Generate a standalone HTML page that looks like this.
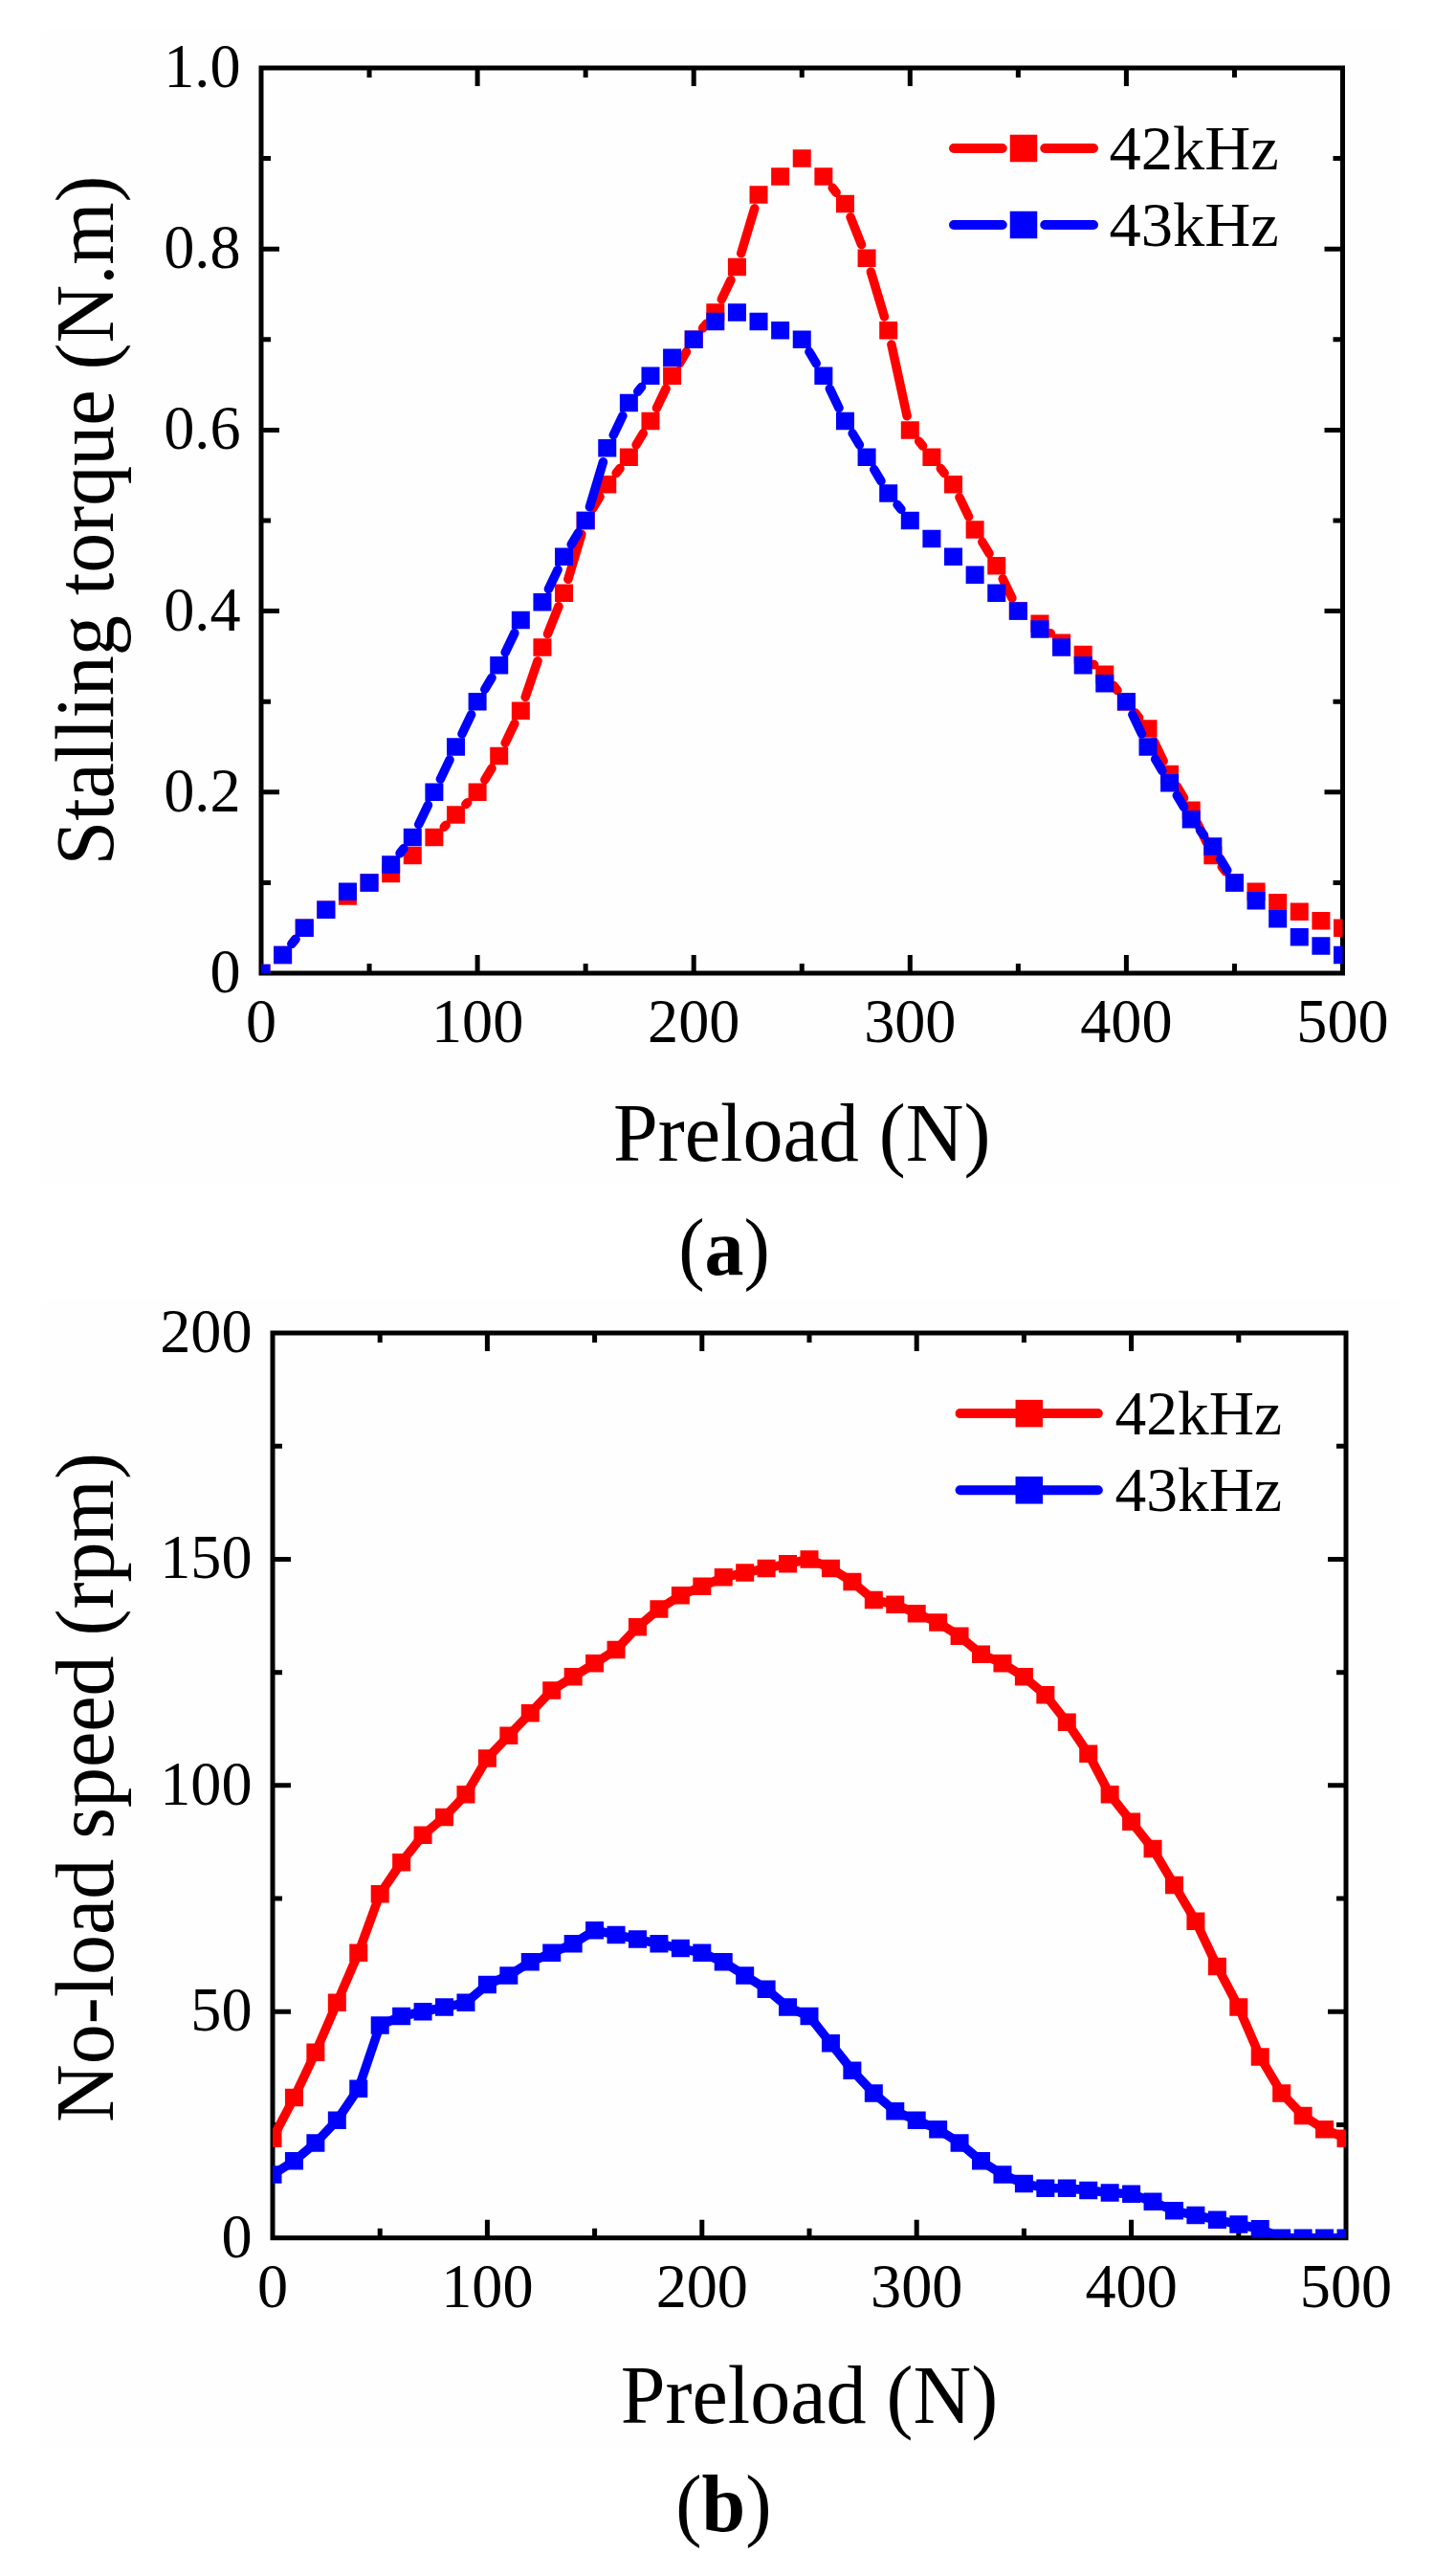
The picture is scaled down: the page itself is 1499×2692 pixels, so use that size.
<!DOCTYPE html>
<html><head><meta charset="utf-8"><style>
html,body{margin:0;padding:0;background:#fff;}
body{width:1499px;height:2692px;overflow:hidden;}
svg{display:block;}
text{font-family:"Liberation Serif", serif;}
</style></head><body>
<svg width="1499" height="2692" viewBox="0 0 1499 2692" font-family="'Liberation Serif', serif" font-size="66.5" fill="#000">
<rect x="0" y="0" width="1499" height="2692" fill="#fff"/>
<rect x="43" y="31" width="1422" height="1207" fill="#fefefe"/>
<rect x="43" y="1356" width="1422" height="1201" fill="#fefefe"/>
<clipPath id="ca"><rect x="273" y="71" width="1130.5" height="946"/></clipPath>
<path d="M386.05 1017V1007M386.05 71V81M499.1 1017V998M499.1 71V90M612.15 1017V1007M612.15 71V81M725.2 1017V998M725.2 71V90M838.25 1017V1007M838.25 71V81M951.3 1017V998M951.3 71V90M1064.35 1017V1007M1064.35 71V81M1177.4 1017V998M1177.4 71V90M1290.45 1017V1007M1290.45 71V81M273 922.4H283M1403.5 922.4H1393.5M273 827.8H292M1403.5 827.8H1384.5M273 733.2H283M1403.5 733.2H1393.5M273 638.6H292M1403.5 638.6H1384.5M273 544H283M1403.5 544H1393.5M273 449.4H292M1403.5 449.4H1384.5M273 354.8H283M1403.5 354.8H1393.5M273 260.2H292M1403.5 260.2H1384.5M273 165.6H283M1403.5 165.6H1393.5" stroke="#000" stroke-width="5" fill="none"/>
<rect x="273" y="71" width="1130.5" height="946" stroke="#000" stroke-width="5" fill="none"/>
<g clip-path="url(#ca)"><path d="M304.96 986.35L308.87 981.43M464.25 864.26L466.12 862.29M486.86 840.61L488.73 838.64M506.79 814.92L514.02 802.84M528.18 776.43L537.85 756.19M549.17 728.46L562.08 690.64M572.48 662.5L583.99 633.62M593.83 605.31L607.86 558.37M619.84 531.12L627.07 519.04M644.11 494.43L648.02 489.51M665.06 464.9L672.29 452.82M686.45 426.41L696.12 406.17M710.28 379.76L717.51 367.68M734.55 343.07L738.46 338.15M754.28 312.89L763.95 292.65M774.71 264.75L788.74 217.81M870.21 196.25L874.12 201.17M889.02 226.84L900.53 255.72M910.37 284.03L924.4 330.97M931.87 360L948.12 434.74M960.65 461.13L964.56 466.05M983.26 489.51L987.17 494.43M1002.99 519.69L1012.66 539.93M1026.82 566.34L1034.05 578.42M1048.21 604.83L1057.88 625.07M1098.23 661.74L1098.3 661.81M1143.22 694.17L1143.75 694.66M1164.14 716.55L1168.05 721.47M1186.75 744.93L1190.66 749.85M1206.48 775.11L1216.15 795.35M1230.31 821.76L1237.54 833.84M1251.7 860.25L1261.37 880.49M1277.19 905.75L1281.1 910.67" fill="none" stroke="#ff0000" stroke-width="9.5" stroke-linecap="round"/><path d="M263.5 1007.75h19v18.5h-19zM286.11 988.83h19v18.5h-19zM308.72 960.45h19v18.5h-19zM331.33 941.53h19v18.5h-19zM353.94 927.34h19v18.5h-19zM376.55 913.15h19v18.5h-19zM399.16 903.69h19v18.5h-19zM421.77 884.77h19v18.5h-19zM444.38 865.85h19v18.5h-19zM466.99 842.2h19v18.5h-19zM489.6 818.55h19v18.5h-19zM512.21 780.71h19v18.5h-19zM534.82 733.41h19v18.5h-19zM557.43 667.19h19v18.5h-19zM580.04 610.43h19v18.5h-19zM602.65 534.75h19v18.5h-19zM625.26 496.91h19v18.5h-19zM647.87 468.53h19v18.5h-19zM670.48 430.69h19v18.5h-19zM693.09 383.39h19v18.5h-19zM715.7 345.55h19v18.5h-19zM738.31 317.17h19v18.5h-19zM760.92 269.87h19v18.5h-19zM783.53 194.19h19v18.5h-19zM806.14 175.27h19v18.5h-19zM828.75 156.35h19v18.5h-19zM851.36 175.27h19v18.5h-19zM873.97 203.65h19v18.5h-19zM896.58 260.41h19v18.5h-19zM919.19 336.09h19v18.5h-19zM941.8 440.15h19v18.5h-19zM964.41 468.53h19v18.5h-19zM987.02 496.91h19v18.5h-19zM1009.63 544.21h19v18.5h-19zM1032.24 582.05h19v18.5h-19zM1054.85 629.35h19v18.5h-19zM1077.46 642.59h19v18.5h-19zM1100.07 662.46h19v18.5h-19zM1122.68 674.76h19v18.5h-19zM1145.29 695.57h19v18.5h-19zM1167.9 723.95h19v18.5h-19zM1190.51 752.33h19v18.5h-19zM1213.12 799.63h19v18.5h-19zM1235.73 837.47h19v18.5h-19zM1258.34 884.77h19v18.5h-19zM1280.95 913.15h19v18.5h-19zM1303.56 922.61h19v18.5h-19zM1326.17 933.96h19v18.5h-19zM1348.78 943.42h19v18.5h-19zM1371.39 952.88h19v18.5h-19zM1394 960.45h19v18.5h-19z" fill="#ff0000"/></g>
<g clip-path="url(#ca)"><path d="M304.96 986.35L308.87 981.43M418.01 891.75L421.92 886.83M437.74 861.57L447.41 841.33M460.35 814.27L470.02 794.03M482.96 766.97L492.63 746.73M506.79 720.32L514.02 708.24M528.18 681.83L537.85 661.59M573.4 615.61L583.07 595.37M597.23 568.96L604.46 556.88M616.44 529.63L630.47 482.69M641.23 454.79L650.9 434.55M666.72 409.29L670.63 404.37M845.94 367.68L853.17 379.76M867.33 406.17L877 426.41M891.16 452.82L898.39 464.9M913.77 490.66L921 502.74M938.04 527.35L941.95 532.27M1183.87 746.73L1193.54 766.97M1207.7 793.38L1214.93 805.46M1230.31 831.22L1237.54 843.3M1254.58 867.91L1258.49 872.83M1275.53 897.44L1282.76 909.52" fill="none" stroke="#0000ff" stroke-width="9.5" stroke-linecap="round"/><path d="M263.5 1007.75h19v18.5h-19zM286.11 988.83h19v18.5h-19zM308.72 960.45h19v18.5h-19zM331.33 941.53h19v18.5h-19zM353.94 922.61h19v18.5h-19zM376.55 913.15h19v18.5h-19zM399.16 894.23h19v18.5h-19zM421.77 865.85h19v18.5h-19zM444.38 818.55h19v18.5h-19zM466.99 771.25h19v18.5h-19zM489.6 723.95h19v18.5h-19zM512.21 686.11h19v18.5h-19zM534.82 638.81h19v18.5h-19zM557.43 619.89h19v18.5h-19zM580.04 572.59h19v18.5h-19zM602.65 534.75h19v18.5h-19zM625.26 459.07h19v18.5h-19zM647.87 411.77h19v18.5h-19zM670.48 383.39h19v18.5h-19zM693.09 364.47h19v18.5h-19zM715.7 345.55h19v18.5h-19zM738.31 326.63h19v18.5h-19zM760.92 317.17h19v18.5h-19zM783.53 326.63h19v18.5h-19zM806.14 336.09h19v18.5h-19zM828.75 345.55h19v18.5h-19zM851.36 383.39h19v18.5h-19zM873.97 430.69h19v18.5h-19zM896.58 468.53h19v18.5h-19zM919.19 506.37h19v18.5h-19zM941.8 534.75h19v18.5h-19zM964.41 553.67h19v18.5h-19zM987.02 572.59h19v18.5h-19zM1009.63 591.51h19v18.5h-19zM1032.24 610.43h19v18.5h-19zM1054.85 629.35h19v18.5h-19zM1077.46 648.27h19v18.5h-19zM1100.07 667.19h19v18.5h-19zM1122.68 686.11h19v18.5h-19zM1145.29 705.03h19v18.5h-19zM1167.9 723.95h19v18.5h-19zM1190.51 771.25h19v18.5h-19zM1213.12 809.09h19v18.5h-19zM1235.73 846.93h19v18.5h-19zM1258.34 875.31h19v18.5h-19zM1280.95 913.15h19v18.5h-19zM1303.56 932.07h19v18.5h-19zM1326.17 950.99h19v18.5h-19zM1348.78 969.91h19v18.5h-19zM1371.39 979.37h19v18.5h-19zM1394 988.83h19v18.5h-19z" fill="#0000ff"/></g>
<text transform="translate(251.5 1037) scale(0.966 1)" text-anchor="end">0</text>
<text transform="translate(251.5 847.8) scale(0.966 1)" text-anchor="end">0.2</text>
<text transform="translate(251.5 658.6) scale(0.966 1)" text-anchor="end">0.4</text>
<text transform="translate(251.5 469.4) scale(0.966 1)" text-anchor="end">0.6</text>
<text transform="translate(251.5 280.2) scale(0.966 1)" text-anchor="end">0.8</text>
<text transform="translate(251.5 91) scale(0.966 1)" text-anchor="end">1.0</text>
<text transform="translate(273 1089) scale(0.966 1)" text-anchor="middle">0</text>
<text transform="translate(499.1 1089) scale(0.966 1)" text-anchor="middle">100</text>
<text transform="translate(725.2 1089) scale(0.966 1)" text-anchor="middle">200</text>
<text transform="translate(951.3 1089) scale(0.966 1)" text-anchor="middle">300</text>
<text transform="translate(1177.4 1089) scale(0.966 1)" text-anchor="middle">400</text>
<text transform="translate(1403.5 1089) scale(0.966 1)" text-anchor="middle">500</text>
<text transform="translate(838.25 1213) scale(0.966 1)" text-anchor="middle" font-size="87">Preload (N)</text>
<text transform="translate(117.5 544) rotate(-90) scale(0.966 1)" text-anchor="middle" font-size="87">Stalling torque (N.m)</text>
<path d="M997 155H1047.75M1092.25 155H1143" stroke="#ff0000" stroke-width="10" stroke-linecap="round"/>
<rect x="1055.75" y="140.75" width="28.5" height="28.5" fill="#ff0000"/>
<text transform="translate(1159.5 176.6) scale(1 1)">42kHz</text>
<path d="M997 235H1047.75M1092.25 235H1143" stroke="#0000ff" stroke-width="10" stroke-linecap="round"/>
<rect x="1055.75" y="220.75" width="28.5" height="28.5" fill="#0000ff"/>
<text transform="translate(1159.5 256.9) scale(1 1)">43kHz</text>
<clipPath id="cb"><rect x="285" y="1393" width="1122" height="945.7"/></clipPath>
<path d="M397.2 2338.7V2328.7M397.2 1393V1403M509.4 2338.7V2319.7M509.4 1393V1412M621.6 2338.7V2328.7M621.6 1393V1403M733.8 2338.7V2319.7M733.8 1393V1412M846 2338.7V2328.7M846 1393V1403M958.2 2338.7V2319.7M958.2 1393V1412M1070.4 2338.7V2328.7M1070.4 1393V1403M1182.6 2338.7V2319.7M1182.6 1393V1412M1294.8 2338.7V2328.7M1294.8 1393V1403M285 2220.49H295M1407 2220.49H1397M285 2102.27H304M1407 2102.27H1388M285 1984.06H295M1407 1984.06H1397M285 1865.85H304M1407 1865.85H1388M285 1747.64H295M1407 1747.64H1397M285 1629.42H304M1407 1629.42H1388M285 1511.21H295M1407 1511.21H1397" stroke="#000" stroke-width="5" fill="none"/>
<rect x="285" y="1393" width="1122" height="945.7" stroke="#000" stroke-width="5" fill="none"/>
<g clip-path="url(#cb)"><polyline points="285,2234.67 307.44,2192.12 329.88,2144.83 352.32,2092.82 374.76,2040.8 397.2,1979.33 419.64,1946.23 442.08,1917.86 464.52,1898.95 486.96,1875.31 509.4,1837.48 531.84,1813.84 554.28,1790.19 576.72,1766.55 599.16,1752.37 621.6,1738.18 644.04,1723.99 666.48,1700.35 688.92,1681.44 711.36,1667.25 733.8,1657.8 756.24,1648.34 778.68,1643.61 801.12,1638.88 823.56,1634.15 846,1629.42 868.44,1638.88 890.88,1653.07 913.32,1671.98 935.76,1676.71 958.2,1686.17 980.64,1695.62 1003.08,1709.81 1025.52,1728.72 1047.96,1738.18 1070.4,1752.37 1092.84,1771.28 1115.28,1799.65 1137.72,1832.75 1160.16,1875.31 1182.6,1903.68 1205.04,1932.05 1227.48,1969.88 1249.92,2007.7 1272.36,2054.99 1294.8,2097.55 1317.24,2149.56 1339.68,2187.39 1362.12,2211.03 1384.56,2225.22 1407,2234.67" fill="none" stroke="#ff0000" stroke-width="9.5" stroke-linejoin="round" stroke-linecap="round"/><path d="M275.5 2225.42h19v18.5h-19zM297.94 2182.87h19v18.5h-19zM320.38 2135.58h19v18.5h-19zM342.82 2083.57h19v18.5h-19zM365.26 2031.55h19v18.5h-19zM387.7 1970.08h19v18.5h-19zM410.14 1936.98h19v18.5h-19zM432.58 1908.61h19v18.5h-19zM455.02 1889.7h19v18.5h-19zM477.46 1866.06h19v18.5h-19zM499.9 1828.23h19v18.5h-19zM522.34 1804.59h19v18.5h-19zM544.78 1780.94h19v18.5h-19zM567.22 1757.3h19v18.5h-19zM589.66 1743.12h19v18.5h-19zM612.1 1728.93h19v18.5h-19zM634.54 1714.74h19v18.5h-19zM656.98 1691.1h19v18.5h-19zM679.42 1672.19h19v18.5h-19zM701.86 1658h19v18.5h-19zM724.3 1648.55h19v18.5h-19zM746.74 1639.09h19v18.5h-19zM769.18 1634.36h19v18.5h-19zM791.62 1629.63h19v18.5h-19zM814.06 1624.9h19v18.5h-19zM836.5 1620.17h19v18.5h-19zM858.94 1629.63h19v18.5h-19zM881.38 1643.82h19v18.5h-19zM903.82 1662.73h19v18.5h-19zM926.26 1667.46h19v18.5h-19zM948.7 1676.92h19v18.5h-19zM971.14 1686.37h19v18.5h-19zM993.58 1700.56h19v18.5h-19zM1016.02 1719.47h19v18.5h-19zM1038.46 1728.93h19v18.5h-19zM1060.9 1743.12h19v18.5h-19zM1083.34 1762.03h19v18.5h-19zM1105.78 1790.4h19v18.5h-19zM1128.22 1823.5h19v18.5h-19zM1150.66 1866.06h19v18.5h-19zM1173.1 1894.43h19v18.5h-19zM1195.54 1922.8h19v18.5h-19zM1217.98 1960.63h19v18.5h-19zM1240.42 1998.45h19v18.5h-19zM1262.86 2045.74h19v18.5h-19zM1285.3 2088.3h19v18.5h-19zM1307.74 2140.31h19v18.5h-19zM1330.18 2178.14h19v18.5h-19zM1352.62 2201.78h19v18.5h-19zM1375.06 2215.97h19v18.5h-19zM1397.5 2225.42h19v18.5h-19z" fill="#ff0000"/></g>
<g clip-path="url(#cb)"><polyline points="285,2272.5 307.44,2258.32 329.88,2239.4 352.32,2215.76 374.76,2182.66 397.2,2116.46 419.64,2107 442.08,2102.27 464.52,2097.55 486.96,2092.82 509.4,2073.9 531.84,2064.45 554.28,2050.26 576.72,2040.8 599.16,2031.35 621.6,2017.16 644.04,2021.89 666.48,2026.62 688.92,2031.35 711.36,2036.08 733.8,2040.8 756.24,2050.26 778.68,2064.45 801.12,2078.63 823.56,2097.55 846,2107 868.44,2135.37 890.88,2163.75 913.32,2187.39 935.76,2206.3 958.2,2215.76 980.64,2225.22 1003.08,2239.4 1025.52,2258.32 1047.96,2272.5 1070.4,2281.96 1092.84,2286.69 1115.28,2286.69 1137.72,2289.05 1160.16,2291.41 1182.6,2292.83 1205.04,2300.87 1227.48,2310.33 1249.92,2315.06 1272.36,2319.79 1294.8,2324.51 1317.24,2329.24 1339.68,2338.7 1362.12,2338.7 1384.56,2338.7 1407,2338.7" fill="none" stroke="#0000ff" stroke-width="9.5" stroke-linejoin="round" stroke-linecap="round"/><path d="M275.5 2263.25h19v18.5h-19zM297.94 2249.07h19v18.5h-19zM320.38 2230.15h19v18.5h-19zM342.82 2206.51h19v18.5h-19zM365.26 2173.41h19v18.5h-19zM387.7 2107.21h19v18.5h-19zM410.14 2097.75h19v18.5h-19zM432.58 2093.02h19v18.5h-19zM455.02 2088.3h19v18.5h-19zM477.46 2083.57h19v18.5h-19zM499.9 2064.65h19v18.5h-19zM522.34 2055.2h19v18.5h-19zM544.78 2041.01h19v18.5h-19zM567.22 2031.55h19v18.5h-19zM589.66 2022.1h19v18.5h-19zM612.1 2007.91h19v18.5h-19zM634.54 2012.64h19v18.5h-19zM656.98 2017.37h19v18.5h-19zM679.42 2022.1h19v18.5h-19zM701.86 2026.83h19v18.5h-19zM724.3 2031.55h19v18.5h-19zM746.74 2041.01h19v18.5h-19zM769.18 2055.2h19v18.5h-19zM791.62 2069.38h19v18.5h-19zM814.06 2088.3h19v18.5h-19zM836.5 2097.75h19v18.5h-19zM858.94 2126.12h19v18.5h-19zM881.38 2154.5h19v18.5h-19zM903.82 2178.14h19v18.5h-19zM926.26 2197.05h19v18.5h-19zM948.7 2206.51h19v18.5h-19zM971.14 2215.97h19v18.5h-19zM993.58 2230.15h19v18.5h-19zM1016.02 2249.07h19v18.5h-19zM1038.46 2263.25h19v18.5h-19zM1060.9 2272.71h19v18.5h-19zM1083.34 2277.44h19v18.5h-19zM1105.78 2277.44h19v18.5h-19zM1128.22 2279.8h19v18.5h-19zM1150.66 2282.16h19v18.5h-19zM1173.1 2283.58h19v18.5h-19zM1195.54 2291.62h19v18.5h-19zM1217.98 2301.08h19v18.5h-19zM1240.42 2305.81h19v18.5h-19zM1262.86 2310.54h19v18.5h-19zM1285.3 2315.26h19v18.5h-19zM1307.74 2319.99h19v18.5h-19zM1330.18 2329.45h19v18.5h-19zM1352.62 2329.45h19v18.5h-19zM1375.06 2329.45h19v18.5h-19zM1397.5 2329.45h19v18.5h-19z" fill="#0000ff"/></g>
<text transform="translate(263.5 2358.7) scale(0.966 1)" text-anchor="end">0</text>
<text transform="translate(263.5 2122.27) scale(0.966 1)" text-anchor="end">50</text>
<text transform="translate(263.5 1885.85) scale(0.966 1)" text-anchor="end">100</text>
<text transform="translate(263.5 1649.42) scale(0.966 1)" text-anchor="end">150</text>
<text transform="translate(263.5 1413) scale(0.966 1)" text-anchor="end">200</text>
<text transform="translate(285 2410.7) scale(0.966 1)" text-anchor="middle">0</text>
<text transform="translate(509.4 2410.7) scale(0.966 1)" text-anchor="middle">100</text>
<text transform="translate(733.8 2410.7) scale(0.966 1)" text-anchor="middle">200</text>
<text transform="translate(958.2 2410.7) scale(0.966 1)" text-anchor="middle">300</text>
<text transform="translate(1182.6 2410.7) scale(0.966 1)" text-anchor="middle">400</text>
<text transform="translate(1407 2410.7) scale(0.966 1)" text-anchor="middle">500</text>
<text transform="translate(846 2532.4) scale(0.966 1)" text-anchor="middle" font-size="87">Preload (N)</text>
<text transform="translate(118 1868.05) rotate(-90) scale(0.966 1)" text-anchor="middle" font-size="87">No-load speed (rpm)</text>
<path d="M1003.6 1477.1H1147.8" stroke="#ff0000" stroke-width="10" stroke-linecap="round"/>
<rect x="1061.55" y="1462.85" width="28.5" height="28.5" fill="#ff0000"/>
<text transform="translate(1165.5 1499.4) scale(0.985 1)">42kHz</text>
<path d="M1003.6 1557.3H1147.8" stroke="#0000ff" stroke-width="10" stroke-linecap="round"/>
<rect x="1061.55" y="1543.05" width="28.5" height="28.5" fill="#0000ff"/>
<text transform="translate(1165.5 1579.1) scale(0.985 1)">43kHz</text>
<text transform="translate(757 1332) scale(0.966 1)" text-anchor="middle" font-size="85">(<tspan font-weight="bold">a</tspan>)</text>
<text transform="translate(756.4 2644.8) scale(0.966 1)" text-anchor="middle" font-size="85">(<tspan font-weight="bold">b</tspan>)</text>
</svg>
</body></html>
